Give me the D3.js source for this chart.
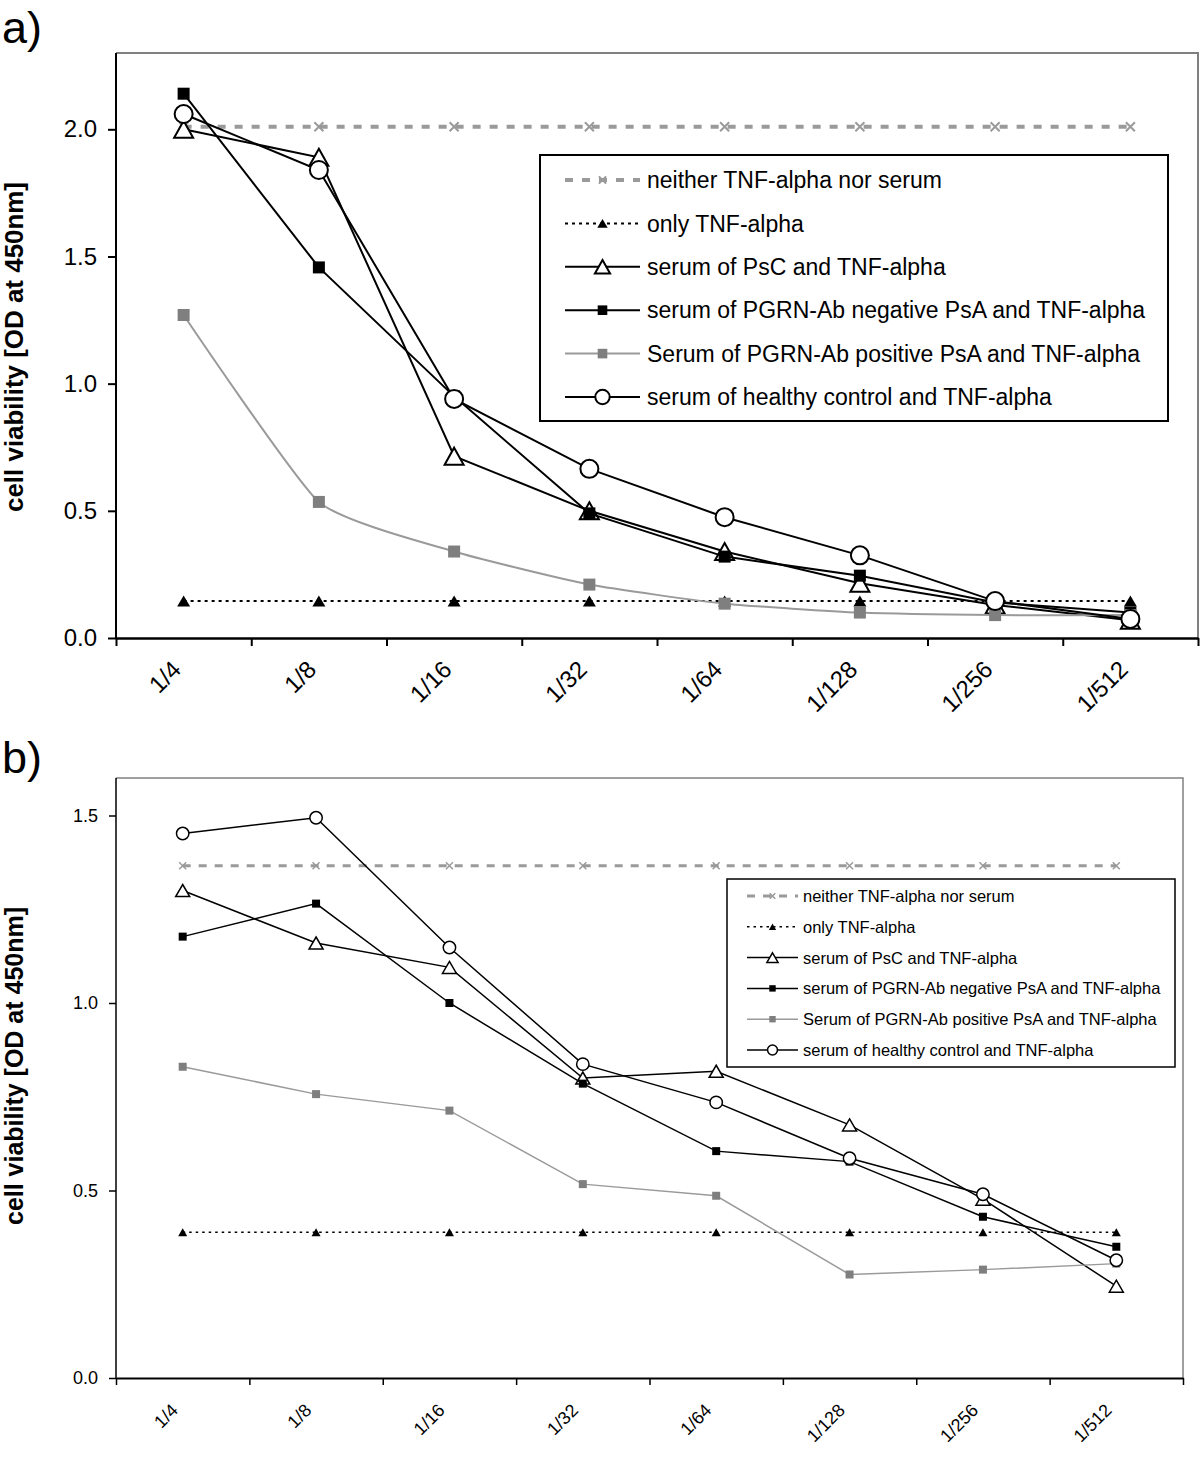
<!DOCTYPE html>
<html>
<head>
<meta charset="utf-8">
<script src="https://cdn.jsdelivr.net/npm/d3@7"></script>
<style>
  html, body { margin: 0; padding: 0; background: #fff; }
  svg { display: block; }
  text { font-family: "Liberation Sans", Arial, Helvetica, sans-serif; }
</style>
</head>
<body>
<svg id="chart" width="1200" height="1462"></svg>
<script>
// ---------------- DATA ----------------
const categories = ["1/4", "1/8", "1/16", "1/32", "1/64", "1/128", "1/256", "1/512"];
const seriesNames = [
  "neither TNF-alpha nor serum",
  "only TNF-alpha",
  "serum of PsC and TNF-alpha",
  "serum of PGRN-Ab negative PsA and TNF-alpha",
  "Serum of PGRN-Ab positive PsA and TNF-alpha",
  "serum of healthy control and TNF-alpha"
];
// panel a)
const aNeither  = [2.01, 2.01, 2.01, 2.01, 2.01, 2.01, 2.01, 2.01];
const aOnlyTNF  = [0.145, 0.145, 0.145, 0.145, 0.145, 0.145, 0.145, 0.145];
const aPsC      = [2.00, 1.89, 0.715, 0.50, 0.34, 0.215, 0.13, 0.07];
const aPgrnNeg  = [2.14, 1.457, 0.95, 0.49, 0.32, 0.245, 0.14, 0.10];
const aPgrnPos  = [1.27, 0.535, 0.34, 0.21, 0.135, 0.10, 0.09, 0.09];
const aHealthy  = [2.06, 1.84, 0.94, 0.665, 0.475, 0.325, 0.145, 0.075];
const aTicks    = [0.0, 0.5, 1.0, 1.5, 2.0];
// panel b)
const bNeither  = [1.366, 1.366, 1.366, 1.366, 1.366, 1.366, 1.366, 1.366];
const bOnlyTNF  = [0.389, 0.389, 0.389, 0.389, 0.389, 0.389, 0.389, 0.389];
const bPsC      = [1.30, 1.16, 1.095, 0.80, 0.818, 0.675, 0.477, 0.245];
const bPgrnNeg  = [1.177, 1.265, 1.00, 0.785, 0.605, 0.577, 0.43, 0.35];
const bPgrnPos  = [0.83, 0.757, 0.713, 0.517, 0.486, 0.276, 0.289, 0.305];
const bHealthy  = [1.452, 1.494, 1.148, 0.837, 0.735, 0.586, 0.49, 0.314];
const bTicks    = [0.0, 0.5, 1.0, 1.5];
const yTitle = "cell viability [OD at 450nm]";

// ---------------- DRAW ----------------
const svg = d3.select("#chart");
const GRAY = "#9a9a9a";

function markerPath(type, w, h) {
  if (type === "tri" || type === "tri-f") {
    return `M0,${-h/2}L${w/2},${h/2}L${-w/2},${h/2}Z`;
  }
  if (type === "x") {
    const s = w/2;
    return `M${-s},${-s}L${s},${s}M${-s},${s}L${s},${-s}`;
  }
  return null;
}

function drawMarker(g, type, cx, cy, st, k) {
  k = k || 1;
  if (type === "circle") {
    g.append("circle").attr("cx", cx).attr("cy", cy).attr("r", st.r * k)
      .attr("fill", "#fff").attr("stroke", "#000").attr("stroke-width", st.mw);
  } else if (type === "sq" || type === "sq-g") {
    const s = st.sq * k;
    g.append("rect").attr("x", cx - s/2).attr("y", cy - s/2).attr("width", s).attr("height", s)
      .attr("fill", type === "sq" ? "#000" : "#7f7f7f");
  } else if (type === "tri") {
    g.append("path").attr("transform", `translate(${cx},${cy})`)
      .attr("d", markerPath("tri", st.triW * k, st.triH * k))
      .attr("fill", "#fff").attr("stroke", "#000").attr("stroke-width", st.mw).attr("stroke-linejoin", "miter");
  } else if (type === "tri-f") {
    g.append("path").attr("transform", `translate(${cx},${cy})`)
      .attr("d", markerPath("tri", st.ftriW * k, st.ftriH * k))
      .attr("fill", "#000");
  } else if (type === "x") {
    g.append("path").attr("transform", `translate(${cx},${cy})`)
      .attr("d", markerPath("x", st.xs * k))
      .attr("fill", "none").attr("stroke", GRAY).attr("stroke-width", st.xw);
  }
}

function drawPanel(cfg) {
  const g = svg.append("g");
  const x = d3.scaleBand().domain(categories).range([cfg.left, cfg.right]).padding(0);
  const xb = d3.scaleLinear().domain([0, categories.length]).range([cfg.left, cfg.right]);
  const y = d3.scaleLinear().domain([0, cfg.yMax]).range([cfg.bottom, cfg.top]);
  const cx = c => x(c) + x.bandwidth() / 2;

  // panel letter
  g.append("text").attr("x", 2).attr("y", cfg.letterY).attr("font-size", 45).text(cfg.letter);

  // frame (top & right, gray)
  g.append("path")
    .attr("d", `M${cfg.left},${cfg.top}H${cfg.right}V${cfg.bottom}`)
    .attr("fill", "none").attr("stroke", "#808080").attr("stroke-width", cfg.frameW);

  // y axis
  const yAxis = g.append("g").attr("transform", `translate(${cfg.left},0)`)
    .call(d3.axisLeft(y).tickValues(cfg.ticks).tickFormat(d3.format(".1f"))
      .tickSize(cfg.tickLen).tickPadding(cfg.tickPad).tickSizeOuter(0));
  yAxis.select(".domain").attr("d", `M0,${cfg.top}V${cfg.bottom}`).attr("stroke-width", cfg.axisW);
  yAxis.selectAll(".tick line").attr("stroke-width", cfg.axisW);
  yAxis.selectAll(".tick text").attr("font-size", cfg.yFont).attr("font-family", null).attr("fill", "#000");

  // x axis (ticks at category boundaries)
  const xAxis = g.append("g").attr("transform", `translate(0,${cfg.bottom})`)
    .call(d3.axisBottom(xb).tickValues(d3.range(categories.length + 1)).tickFormat("")
      .tickSize(cfg.tickLen).tickSizeOuter(0));
  xAxis.select(".domain").attr("stroke-width", cfg.xAxisW);
  xAxis.selectAll(".tick line").attr("stroke-width", cfg.axisW);

  // x labels, rotated
  g.append("g").selectAll("text").data(categories).join("text")
    .attr("transform", c => `translate(${cx(c) - cfg.xlDx},${cfg.bottom + cfg.xlDy}) rotate(-45)`)
    .attr("text-anchor", "end").attr("dy", "0.35em")
    .attr("font-size", cfg.xFont).text(c => c);

  // y title
  g.append("text")
    .attr("transform", `translate(${cfg.titleX},${cfg.titleY}) rotate(-90)`)
    .attr("text-anchor", "middle").attr("font-weight", "bold").attr("font-size", cfg.titleFont)
    .attr("textLength", cfg.titleLen).attr("lengthAdjust", "spacingAndGlyphs")
    .text(yTitle);

  // series
  const st = cfg.st;
  const series = [
    { vals: cfg.data[0], color: GRAY, w: st.dashW, dash: st.dash, marker: "x", curve: d3.curveLinear },
    { vals: cfg.data[1], color: "#000", w: st.dotW, dash: st.dot, marker: "tri-f", curve: d3.curveLinear },
    { vals: cfg.data[2], color: "#000", w: st.lw, dash: null, marker: "tri", curve: d3.curveLinear },
    { vals: cfg.data[3], color: "#000", w: st.lw, dash: null, marker: "sq", curve: d3.curveLinear },
    { vals: cfg.data[4], color: GRAY, w: st.lw, dash: null, marker: "sq-g", curve: cfg.grayCurve },
    { vals: cfg.data[5], color: "#000", w: st.lw, dash: null, marker: "circle", curve: d3.curveLinear }
  ];
  series.forEach(s => {
    const line = d3.line().x((d, i) => cx(categories[i])).y(d => y(d)).curve(s.curve);
    const p = g.append("path").attr("d", line(s.vals)).attr("fill", "none")
      .attr("stroke", s.color).attr("stroke-width", s.w);
    if (s.dash) p.attr("stroke-dasharray", s.dash);
    s.vals.forEach((v, i) => drawMarker(g, s.marker, cx(categories[i]), y(v), st));
  });

  // legend
  const L = cfg.leg;
  const lg = g.append("g");
  lg.append("rect").attr("x", L.x0).attr("y", L.y0).attr("width", L.x1 - L.x0).attr("height", L.y1 - L.y0)
    .attr("fill", "#fff").attr("stroke", "#000").attr("stroke-width", cfg.axisW);
  series.forEach((s, i) => {
    const ry = L.row0 + i * L.step;
    const p = lg.append("line").attr("x1", L.l0).attr("x2", L.l1).attr("y1", ry).attr("y2", ry)
      .attr("stroke", s.color).attr("stroke-width", s.w);
    if (s.dash) p.attr("stroke-dasharray", s.dash);
    drawMarker(lg, s.marker, (L.l0 + L.l1) / 2, ry, st, L.k);
    lg.append("text").attr("x", L.tx).attr("y", ry).attr("dy", "0.36em")
      .attr("font-size", L.font).text(seriesNames[i]);
  });
}

drawPanel({
  letter: "a)", letterY: 43,
  left: 116, right: 1198, top: 53, bottom: 638, yMax: 2.3, ticks: aTicks,
  frameW: 2, axisW: 2, xAxisW: 2.5, tickLen: 8, tickPad: 11, yFont: 24, xFont: 24,
  xlDx: 7, xlDy: 27,
  titleX: 23, titleY: 347, titleFont: 26, titleLen: 330,
  data: [aNeither, aOnlyTNF, aPsC, aPgrnNeg, aPgrnPos, aHealthy],
  grayCurve: d3.curveCardinal.tension(0.5),
  st: { lw: 2, mw: 2, dashW: 4, dash: "8,9", dotW: 2, dot: "3,4",
        r: 9, sq: 12, triW: 19, triH: 17, ftriW: 13, ftriH: 11, xs: 9, xw: 2 },
  leg: { x0: 540, x1: 1168, y0: 155, y1: 421, row0: 180, step: 43.4,
         l0: 565, l1: 640, tx: 647, font: 23, k: 0.8 }
});

drawPanel({
  letter: "b)", letterY: 773,
  left: 116, right: 1183, top: 778, bottom: 1378, yMax: 1.6, ticks: bTicks,
  frameW: 1.5, axisW: 1.5, xAxisW: 2, tickLen: 7, tickPad: 11, yFont: 18, xFont: 18,
  xlDx: 8, xlDy: 29,
  titleX: 23, titleY: 1066, titleFont: 26, titleLen: 318,
  data: [bNeither, bOnlyTNF, bPsC, bPgrnNeg, bPgrnPos, bHealthy],
  grayCurve: d3.curveLinear,
  st: { lw: 1.5, mw: 1.5, dashW: 3, dash: "8,8", dotW: 1.5, dot: "2.5,4",
        r: 6.2, sq: 8, triW: 14, triH: 12, ftriW: 9, ftriH: 8, xs: 7, xw: 1.5 },
  leg: { x0: 727, x1: 1175, y0: 879, y1: 1067, row0: 896, step: 30.8,
         l0: 747, l1: 798, tx: 803, font: 16.5, k: 0.8 }
});
</script>
</body>
</html>
